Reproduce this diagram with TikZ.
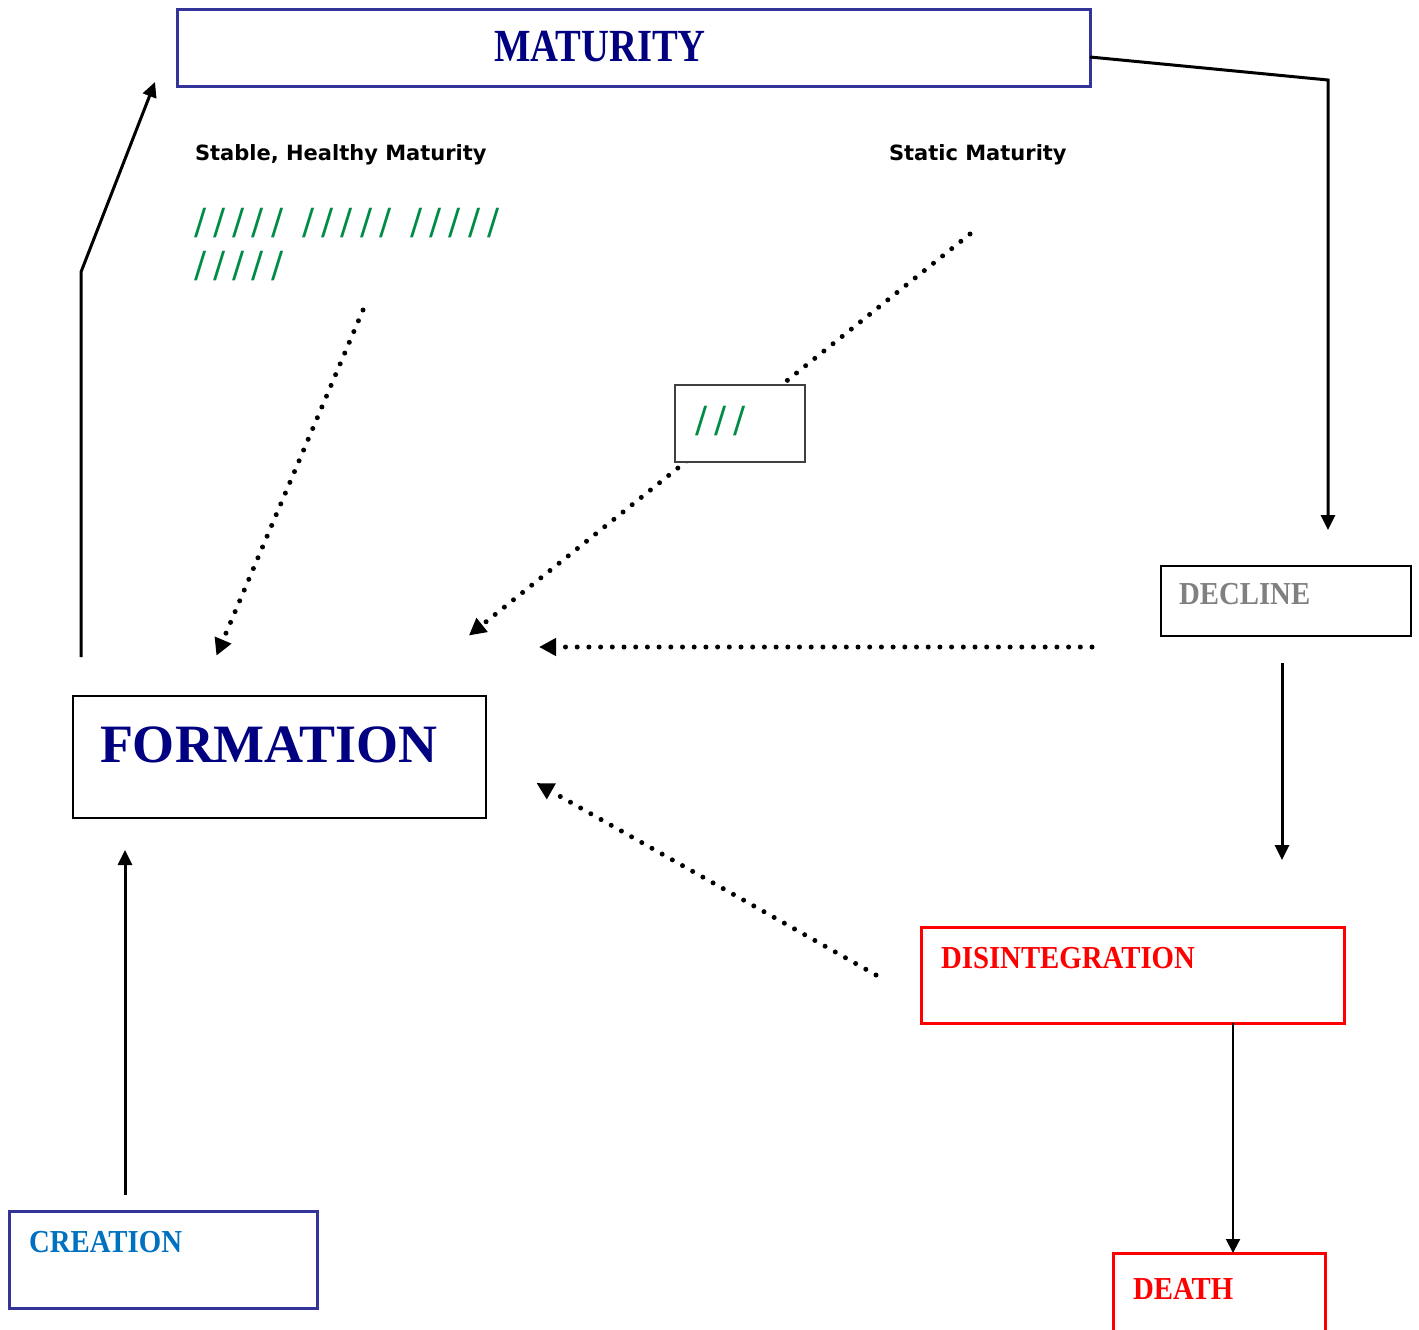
\documentclass[tikz,border=0pt]{standalone}
\usepackage{fontspec}
\usetikzlibrary{arrows.meta,calc}
\setmainfont{Liberation Serif}
\newfontfamily\cambfont[FakeStretch=0.9]{Liberation Serif}
\newfontfamily\matfont[FakeStretch=0.84]{Liberation Serif}
\newfontfamily\labfont{DejaVu Sans}
\newfontfamily\slashfont[LetterSpace=20]{DejaVu Sans}
\definecolor{boxblue}{RGB}{51,51,153}
\definecolor{navy}{RGB}{0,0,128}
\definecolor{tickgreen}{RGB}{0,140,70}
\definecolor{creablue}{RGB}{0,112,192}
\definecolor{declgray}{RGB}{128,128,128}
\tikzset{
  stagebox/.style={draw, rectangle, inner sep=0pt, outer sep=0pt, fill=white},
  stagetext/.style={inner sep=0pt, outer sep=0pt, anchor=base west},
  serifstage/.style={stagetext, font=\cambfont\bfseries\fontsize{16}{16}\selectfont},
  sidelabel/.style={stagetext, font=\labfont\bfseries\fontsize{10.5}{10.5}\selectfont},
  ticks/.style={stagetext, text=tickgreen, font=\slashfont\fontsize{18}{18}\selectfont},
  flow/.style={line width=1.5pt, -{Triangle[length=7.5pt,width=7pt]}},
  feedback/.style={line width=2.5pt, line cap=round, dash pattern=on 0pt off 5.85pt,
    -{Triangle[length=8.5pt,width=8.5pt]}, shorten >=-2pt}
}
\begin{document}
\begin{tikzpicture}[x=0.5pt,y=-0.5pt]
\useasboundingbox (0,0) rectangle (1419,1329);

% stage boxes (sizes in pt: half the coordinate units)
\node[stagebox, draw=boxblue, line width=1.5pt, minimum width=456.5pt, minimum height=38.5pt] (mat) at (633.5,47.5) {};
\node[stagebox, line width=1pt, minimum width=125pt, minimum height=35pt] (dec) at (1286,601) {};
\node[stagebox, line width=1pt, minimum width=206.5pt, minimum height=61pt] (form) at (279.5,757) {};
\node[stagebox, draw=red, line width=1.5pt, minimum width=211.5pt, minimum height=48pt] (dis) at (1132.5,975) {};
\node[stagebox, draw=red, line width=1.5pt, minimum width=106pt, minimum height=48pt] (death) at (1219,1301) {};
\node[stagebox, draw=boxblue, line width=1.5pt, minimum width=154pt, minimum height=48.5pt] (crea) at (163,1259.5) {};

% stage names
\node[inner sep=0pt, anchor=base, text=navy, font=\matfont\bfseries\fontsize{23}{23}\selectfont] (matlbl) at (600,61) {MATURITY};
\node[stagetext, text=navy, font=\bfseries\fontsize{27}{27}\selectfont] (formlbl) at (100,762) {FORMATION};
\node[serifstage, text=declgray] (declbl) at (1179,604) {DECLINE};
\node[serifstage, text=red] (dislbl) at (941,968) {DISINTEGRATION};
\node[serifstage, text=creablue] (crealbl) at (29,1252) {CREATION};
\node[serifstage, text=red] (deathlbl) at (1133,1299) {DEATH};

% kinds of maturity
\node[sidelabel] (stable) at (195,160) {Stable, Healthy Maturity};
\node[sidelabel] (static) at (889,160) {Static Maturity};
\node[ticks] (tickA) at (194,234) {///// ///// /////};
\node[ticks] (tickB) at (194,277) {/////};

% free ends of the connectors
\coordinate (decin) at (1328,530);
\coordinate (decout) at (1282,663);
\coordinate (disin) at (1282,860);
\coordinate (deathx) at (1233,0);
\coordinate (creaout) at (125,1195);
\coordinate (formin) at (125,850);
\coordinate (formout) at (81,657);
\coordinate (bend) at (81,272);
\coordinate (matin) at (155,82);
\coordinate (stableout) at (363,310);
\coordinate (formA) at (218,652);
\coordinate (staticout) at (970,234);
\coordinate (formB) at (472,633);
\coordinate (declout) at (1092,647);
\coordinate (formC) at (543,647);
\coordinate (disout) at (876,975);
\coordinate (formD) at (540,785);

% feedback paths back to formation
\draw[feedback] (stableout) -- (formA);
\draw[feedback] (staticout) -- (formB);
\draw[feedback] (declout) -- (formC);
\draw[feedback] (disout) -- (formD);

% small box on the static-maturity path
\node[stagebox, draw=black!75, line width=0.75pt, minimum width=65pt, minimum height=38.5pt] (mid) at (740,423.5) {};
\node[ticks] (tickC) at (695,432) {///};

% life-cycle flow
\draw[flow] ($(mat.east)+(0,9.5)$) -- (1328,80) -- (decin);
\draw[flow] (decout) -- (disin);
\draw[line width=1pt, -{Triangle[length=7pt,width=7pt]}] (dis.south -| deathx) -- (death.north -| deathx);
\draw[flow] (creaout) -- (formin);
\draw[flow] (formout) -- (bend) -- (matin);
\end{tikzpicture}
\end{document}
